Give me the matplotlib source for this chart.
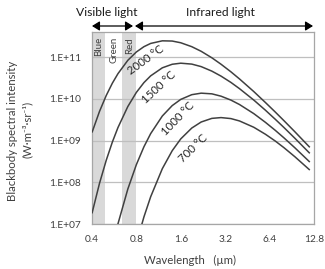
import matplotlib
matplotlib.use("Agg")
import matplotlib.pyplot as plt
from matplotlib.patches import FancyArrowPatch
from matplotlib.ticker import FixedLocator, FixedFormatter, NullLocator

plt.rcParams['font.family'] = ['Lato', 'DejaVu Sans']

# ---- data ----
wavelength_um = [0.4, 0.45, 0.5, 0.55, 0.6, 0.7, 0.8, 0.9, 1.0, 1.2, 1.4, 1.6,
                 1.9, 2.2, 2.6, 3.0, 3.5, 4.0, 5.0, 6.0, 7.0, 8.0, 9.5, 12.0]
intensity_2000C = [1.56e9, 5.02e9, 1.21e10, 2.38e10, 4.01e10, 8.39e10, 1.33e11, 1.78e11,
                   2.13e11, 2.46e11, 2.43e11, 2.21e11, 1.78e11, 1.38e11, 9.64e10, 6.76e10,
                   4.45e10, 3.01e10, 1.50e10, 8.18e9, 4.83e9, 3.02e9, 1.63e9, 6.89e8]
intensity_1500C = [1.80e7, 9.51e7, 3.40e8, 9.25e8, 2.05e9, 6.55e9, 1.43e10, 2.45e10,
                   3.56e10, 5.55e10, 6.75e10, 7.16e10, 6.81e10, 5.93e10, 4.62e10, 3.51e10,
                   2.48e10, 1.76e10, 9.38e9, 5.35e9, 3.24e9, 2.07e9, 1.14e9, 4.95e8]
intensity_1000C = [6.24e3, 7.98e4, 5.81e5, 2.82e6, 1.01e7, 6.90e7, 2.66e8, 7.10e8,
                   1.47e9, 3.89e9, 6.90e9, 9.72e9, 1.26e10, 1.37e10, 1.32e10, 1.16e10,
                   9.35e9, 7.33e9, 4.44e9, 2.74e9, 1.76e9, 1.17e9, 6.73e8, 3.06e8]
intensity_700C = [1.0e0, 3.46e1, 5.46e2, 4.99e3, 3.03e4, 4.75e5, 3.42e6, 1.48e7,
                  4.51e7, 2.13e8, 5.73e8, 1.10e9, 2.00e9, 2.79e9, 3.41e9, 3.56e9,
                  3.37e9, 2.96e9, 2.09e9, 1.42e9, 9.76e8, 6.80e8, 4.11e8, 1.97e8]
series_labels = ["2000 °C", "1500 °C", "1000 °C", "700 °C"]

band_names = ["Blue", "Green", "Red"]
band_ranges = [(0.4, 0.49), (0.49, 0.64), (0.64, 0.8)]
band_shaded = [True, False, True]

x_ticks = [0.4, 0.8, 1.6, 3.2, 6.4, 12.8]
x_ticklabels = ["0.4", "0.8", "1.6", "3.2", "6.4", "12.8"]
y_ticks = [1e7, 1e8, 1e9, 1e10, 1e11]
y_ticklabels = ["1.E+07", "1.E+08", "1.E+09", "1.E+10", "1.E+11"]

# ---- figure ----
fig = plt.figure(figsize=(3.25, 2.69), dpi=100)
ax = fig.add_axes([0.283, 0.167, 0.683, 0.714])

line_color = "#404040"
grid_color = "#bfbfbf"
text_color = "#404040"

for (lo, hi), shaded in zip(band_ranges, band_shaded):
    if shaded:
        ax.axvspan(lo, hi, color="#d9d9d9", lw=0, zorder=0)

for yt in y_ticks:
    ax.axhline(yt, color=grid_color, lw=0.9, zorder=1)

all_series = [intensity_2000C, intensity_1500C, intensity_1000C, intensity_700C]
for s in all_series:
    ax.plot(wavelength_um, s, color=line_color, lw=1.1, zorder=3, solid_capstyle='butt')

ax.set_xscale('log', base=2)
ax.set_yscale('log')
ax.set_xlim(0.4, 12.8)
ax.set_ylim(1e7, 4e11)

ax.xaxis.set_major_locator(FixedLocator(x_ticks))
ax.xaxis.set_major_formatter(FixedFormatter(x_ticklabels))
ax.xaxis.set_minor_locator(NullLocator())
ax.yaxis.set_major_locator(FixedLocator(y_ticks))
ax.yaxis.set_major_formatter(FixedFormatter(y_ticklabels))
ax.yaxis.set_minor_locator(NullLocator())
ax.tick_params(axis='both', length=0, labelsize=7.3, colors=text_color)
ax.tick_params(axis='x', pad=8)
ax.tick_params(axis='y', pad=8)

for sp in ax.spines.values():
    sp.set_color("#a6a6a6")
    sp.set_linewidth(0.9)

# band labels
band_label_x = [0.443, 0.565, 0.715]
for name, bx in zip(band_names, band_label_x):
    ax.text(bx, 0.975, name, rotation=90, ha='center', va='top', fontsize=7,
            color=text_color, transform=ax.get_xaxis_transform(), zorder=4)

# curve labels (axes fraction positions, rotation)
label_pos = [(0.244, 0.857, 36), (0.302, 0.711, 43), (0.388, 0.551, 46), (0.455, 0.395, 44)]
for lab, (lx, ly, rot) in zip(series_labels, label_pos):
    ax.text(lx, ly, lab, rotation=rot, ha='center', va='center', fontsize=8.2,
            color="#262626", transform=ax.transAxes, zorder=4, rotation_mode='anchor')

# axis labels
fig.text(0.037, 0.515, "Blackbody spectral intensity", rotation=90, ha='center', va='center',
         fontsize=8.2, color=text_color)
fig.text(0.083, 0.519, "(W·m⁻³·sr⁻¹)", rotation=90, ha='center', va='center',
         fontsize=8.2, color=text_color)
fig.text(0.585, 0.033, "Wavelength   (µm)", ha='center', va='center', fontsize=8.2,
         color=text_color)

# top annotations
fig.text(0.329, 0.952, "Visible light", ha='center', va='center', fontsize=8.7, color="#1a1a1a")
fig.text(0.677, 0.952, "Infrared light", ha='center', va='center', fontsize=8.7, color="#1a1a1a")
arrow_y = 1 - 26 / 269
arrowprops = dict(arrowstyle='<|-|>,head_length=0.45,head_width=0.28', color='black', lw=0.9,
                  shrinkA=0, shrinkB=0, mutation_scale=10)
fig.add_artist(FancyArrowPatch((92 / 325, arrow_y), (133 / 325, arrow_y),
               transform=fig.transFigure, **arrowprops))
fig.add_artist(FancyArrowPatch((135 / 325, arrow_y), (313 / 325, arrow_y),
               transform=fig.transFigure, **arrowprops))

fig.savefig("out.png", dpi=100)
